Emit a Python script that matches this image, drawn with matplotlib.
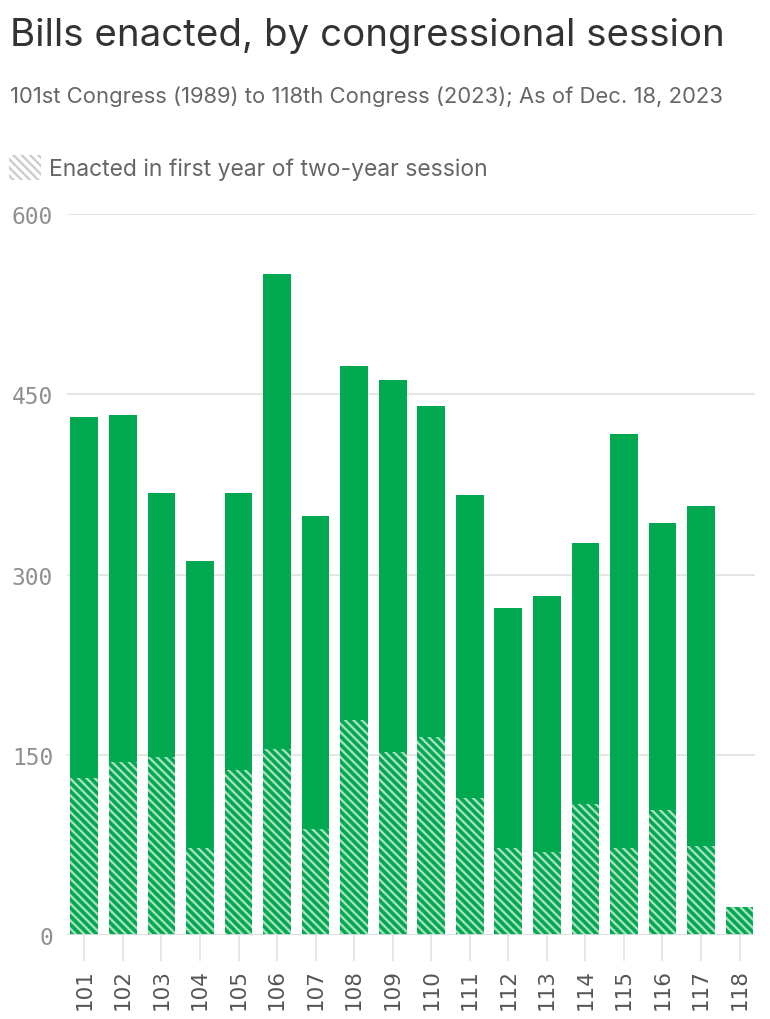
import matplotlib
matplotlib.use("Agg")
import matplotlib.pyplot as plt
from matplotlib.patches import Patch

# data
congress = ["101", "102", "103", "104", "105", "106", "107", "108", "109",
            "110", "111", "112", "113", "114", "115", "116", "117", "118"]
total = [431, 433, 368, 311, 368, 550, 349, 474, 462,
         440, 366, 272, 282, 326, 417, 343, 357, 23]
first_year = [131, 144, 148, 72, 137, 155, 88, 179, 152,
              165, 114, 72, 69, 109, 72, 104, 74, 23]
second_year = [t - f for t, f in zip(total, first_year)]

GREEN = "#00a84f"
STRIPE = "#a6e0c0"
GRID = "#e3e3e3"
HATCH = "\\\\\\\\"  # 4 backslashes -> ~8px stripe period

plt.rcParams["font.family"] = ["Inter", "DejaVu Sans"]
plt.rcParams["hatch.linewidth"] = 1.7

fig = plt.figure(figsize=(7.7, 10.2), dpi=100)
ax = fig.add_axes([0.087, 0.0824, 0.8935, 0.7066])

x = list(range(len(congress)))
ax.bar(x, first_year, width=0.72, color=GREEN, edgecolor=STRIPE,
       hatch=HATCH, linewidth=0, zorder=3)
ax.bar(x, second_year, bottom=first_year, width=0.72, color=GREEN,
       linewidth=0, zorder=3)

ax.set_ylim(0, 600)
ax.set_xlim(-0.45, 17.4)
ax.set_yticks([0, 150, 300, 450, 600])
ax.yaxis.grid(True, color=GRID, linewidth=1.3, zorder=0)
ax.axhline(0, color="#dddddd", linewidth=2, zorder=4)
for s in ax.spines.values():
    s.set_visible(False)

ax.set_xticks(x)
ax.set_xticklabels(congress, rotation=90, fontsize=15.5, color="#555555",
                   fontfamily="DejaVu Sans")
ax.tick_params(axis="x", length=19, width=1.2, color=GRID, pad=5)
ax.tick_params(axis="y", length=0, pad=10)
for lab in ax.get_yticklabels():
    lab.set_fontfamily("DejaVu Sans Mono")
    lab.set_fontsize(16.5)
    lab.set_color("#8f8f8f")

fig.text(0.013, 0.965, "Bills enacted, by congressional session",
         fontsize=27.7, color="#333333", va="center")
fig.text(0.013, 0.905,
         "101st Congress (1989) to 118th Congress (2023); As of Dec. 18, 2023",
         fontsize=15.85, color="#666666", va="center")

handle = Patch(facecolor="white", edgecolor="#cccccc", hatch=HATCH, linewidth=0)
fig.legend([handle], ["Enacted in first year of two-year session"],
           loc="center left", bbox_to_anchor=(0.0, 0.835), frameon=False,
           fontsize=16.5, labelcolor="#666666", handlelength=1.4,
           handleheight=1.3, handletextpad=0.35, borderaxespad=0)

fig.savefig("out.png", dpi=100)
